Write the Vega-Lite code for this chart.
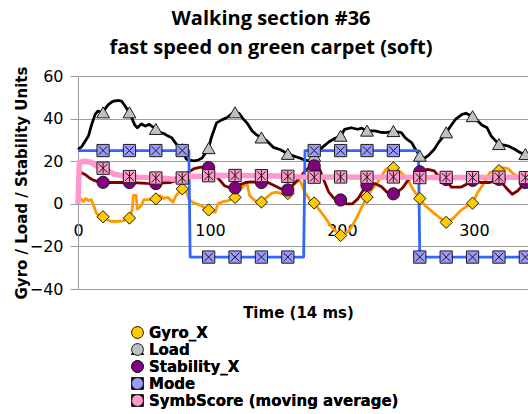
{
  "$schema": "https://vega.github.io/schema/vega-lite/v6.json",
  "autosize": {"type": "none"},
  "padding": {"left": 78, "top": 76, "right": 0, "bottom": 125},
  "width": 450,
  "height": 213,
  "background": "white",
  "title": {
    "text": ["Walking section #36", "fast speed on green carpet (soft)"],
    "font": "Open Sans",
    "fontSize": 20,
    "fontWeight": "bold",
    "lineHeight": 29,
    "anchor": "middle",
    "color": "black",
    "offset": 8,
    "dx": -32
  },
  "datasets": {
    "d": [
      {"s":"Gyro_X","x":0,"y":1.5,"m":0},{"s":"Gyro_X","x":2,"y":2.5,"m":0},{"s":"Gyro_X","x":4,"y":1,"m":0},{"s":"Gyro_X","x":6,"y":2.5,"m":0},{"s":"Gyro_X","x":8,"y":1.5,"m":0},{"s":"Gyro_X","x":10,"y":2,"m":0},{"s":"Gyro_X","x":12,"y":-1,"m":0},{"s":"Gyro_X","x":14,"y":-4.5,"m":0},{"s":"Gyro_X","x":16,"y":-5.5,"m":0},{"s":"Gyro_X","x":19,"y":-6.1,"m":1},{"s":"Gyro_X","x":22,"y":-7.5,"m":0},{"s":"Gyro_X","x":25,"y":-8.2,"m":0},{"s":"Gyro_X","x":30,"y":-8.3,"m":0},{"s":"Gyro_X","x":34,"y":-8,"m":0},{"s":"Gyro_X","x":36,"y":-7.5,"m":0},{"s":"Gyro_X","x":39,"y":-6.7,"m":1},{"s":"Gyro_X","x":41,"y":-3,"m":0},{"s":"Gyro_X","x":42,"y":3.9,"m":0},{"s":"Gyro_X","x":44,"y":4,"m":0},{"s":"Gyro_X","x":45,"y":-2.5,"m":0},{"s":"Gyro_X","x":48,"y":-0.8,"m":0},{"s":"Gyro_X","x":50,"y":2,"m":0},{"s":"Gyro_X","x":54,"y":2,"m":0},{"s":"Gyro_X","x":59,"y":2.3,"m":1},{"s":"Gyro_X","x":62,"y":3.9,"m":0},{"s":"Gyro_X","x":65,"y":2.5,"m":0},{"s":"Gyro_X","x":68,"y":3,"m":0},{"s":"Gyro_X","x":72,"y":0.8,"m":0},{"s":"Gyro_X","x":74,"y":3.5,"m":0},{"s":"Gyro_X","x":77,"y":6,"m":0},{"s":"Gyro_X","x":79,"y":7,"m":1},{"s":"Gyro_X","x":82,"y":6,"m":0},{"s":"Gyro_X","x":84,"y":2,"m":0},{"s":"Gyro_X","x":88,"y":0.3,"m":0},{"s":"Gyro_X","x":92,"y":-0.5,"m":0},{"s":"Gyro_X","x":95,"y":-1.5,"m":0},{"s":"Gyro_X","x":99,"y":-2.9,"m":1},{"s":"Gyro_X","x":102,"y":-3.5,"m":0},{"s":"Gyro_X","x":104,"y":-4,"m":0},{"s":"Gyro_X","x":106,"y":0,"m":0},{"s":"Gyro_X","x":110,"y":1,"m":0},{"s":"Gyro_X","x":114,"y":1.5,"m":0},{"s":"Gyro_X","x":119,"y":3,"m":1},{"s":"Gyro_X","x":122,"y":6,"m":0},{"s":"Gyro_X","x":125,"y":8,"m":0},{"s":"Gyro_X","x":128,"y":10,"m":0},{"s":"Gyro_X","x":130,"y":3.9,"m":0},{"s":"Gyro_X","x":133,"y":2,"m":0},{"s":"Gyro_X","x":136,"y":1,"m":0},{"s":"Gyro_X","x":139,"y":0.8,"m":1},{"s":"Gyro_X","x":143,"y":3,"m":0},{"s":"Gyro_X","x":147,"y":5,"m":0},{"s":"Gyro_X","x":151,"y":5.5,"m":0},{"s":"Gyro_X","x":155,"y":4.5,"m":0},{"s":"Gyro_X","x":159,"y":4.8,"m":1},{"s":"Gyro_X","x":163,"y":8.6,"m":0},{"s":"Gyro_X","x":167,"y":11,"m":0},{"s":"Gyro_X","x":169,"y":10,"m":0},{"s":"Gyro_X","x":172,"y":5.3,"m":0},{"s":"Gyro_X","x":176,"y":1.5,"m":0},{"s":"Gyro_X","x":179,"y":0.4,"m":1},{"s":"Gyro_X","x":183,"y":-3,"m":0},{"s":"Gyro_X","x":187,"y":-6.2,"m":0},{"s":"Gyro_X","x":191,"y":-10,"m":0},{"s":"Gyro_X","x":196,"y":-13.3,"m":0},{"s":"Gyro_X","x":199,"y":-14.9,"m":1},{"s":"Gyro_X","x":205,"y":-13,"m":0},{"s":"Gyro_X","x":208,"y":-10,"m":0},{"s":"Gyro_X","x":212,"y":-5.5,"m":0},{"s":"Gyro_X","x":215,"y":-1.6,"m":0},{"s":"Gyro_X","x":219,"y":3.1,"m":1},{"s":"Gyro_X","x":223,"y":7,"m":0},{"s":"Gyro_X","x":226,"y":9,"m":0},{"s":"Gyro_X","x":229,"y":12,"m":0},{"s":"Gyro_X","x":233,"y":16,"m":0},{"s":"Gyro_X","x":239,"y":16.9,"m":1},{"s":"Gyro_X","x":242,"y":16,"m":0},{"s":"Gyro_X","x":245,"y":14.6,"m":0},{"s":"Gyro_X","x":250,"y":11.5,"m":0},{"s":"Gyro_X","x":254,"y":6.5,"m":0},{"s":"Gyro_X","x":259,"y":2.5,"m":1},{"s":"Gyro_X","x":263,"y":-0.8,"m":0},{"s":"Gyro_X","x":269,"y":-4,"m":0},{"s":"Gyro_X","x":274,"y":-6.5,"m":0},{"s":"Gyro_X","x":279,"y":-8.7,"m":1},{"s":"Gyro_X","x":284,"y":-7,"m":0},{"s":"Gyro_X","x":290,"y":-3.1,"m":0},{"s":"Gyro_X","x":295,"y":-1,"m":0},{"s":"Gyro_X","x":299,"y":0.3,"m":1},{"s":"Gyro_X","x":303,"y":5.5,"m":0},{"s":"Gyro_X","x":308,"y":10,"m":0},{"s":"Gyro_X","x":312,"y":14.6,"m":0},{"s":"Gyro_X","x":319,"y":15.6,"m":1},{"s":"Gyro_X","x":322,"y":17,"m":0},{"s":"Gyro_X","x":326,"y":16.5,"m":0},{"s":"Gyro_X","x":330,"y":14,"m":0},{"s":"Gyro_X","x":334,"y":12.5,"m":0},{"s":"Gyro_X","x":339,"y":12.5,"m":1},{"s":"Gyro_X","x":341,"y":12,"m":0},

      {"s":"Load","x":0,"y":25.5,"m":0},{"s":"Load","x":3,"y":27,"m":0},{"s":"Load","x":6,"y":30,"m":0},{"s":"Load","x":8,"y":32,"m":0},{"s":"Load","x":10,"y":36.5,"m":0},{"s":"Load","x":13,"y":42,"m":0},{"s":"Load","x":15,"y":43.5,"m":0},{"s":"Load","x":19,"y":42.8,"m":1},{"s":"Load","x":21,"y":45,"m":0},{"s":"Load","x":23,"y":46.6,"m":0},{"s":"Load","x":26,"y":48,"m":0},{"s":"Load","x":28,"y":48.3,"m":0},{"s":"Load","x":31,"y":48.5,"m":0},{"s":"Load","x":33,"y":48.2,"m":0},{"s":"Load","x":35,"y":46.5,"m":0},{"s":"Load","x":39,"y":42.8,"m":1},{"s":"Load","x":41,"y":40,"m":0},{"s":"Load","x":43,"y":37,"m":0},{"s":"Load","x":45,"y":35.7,"m":0},{"s":"Load","x":48,"y":37.5,"m":0},{"s":"Load","x":51,"y":36.5,"m":0},{"s":"Load","x":54,"y":37.3,"m":0},{"s":"Load","x":59,"y":35,"m":1},{"s":"Load","x":62,"y":33.5,"m":0},{"s":"Load","x":65,"y":33,"m":0},{"s":"Load","x":68,"y":31.9,"m":0},{"s":"Load","x":71,"y":31,"m":0},{"s":"Load","x":74,"y":28.5,"m":0},{"s":"Load","x":76,"y":27,"m":0},{"s":"Load","x":79,"y":25.5,"m":1},{"s":"Load","x":82,"y":21,"m":0},{"s":"Load","x":84,"y":20.5,"m":0},{"s":"Load","x":88,"y":20.2,"m":0},{"s":"Load","x":91,"y":20.5,"m":0},{"s":"Load","x":94,"y":21.5,"m":0},{"s":"Load","x":99,"y":26,"m":1},{"s":"Load","x":101,"y":31,"m":0},{"s":"Load","x":105,"y":38,"m":0},{"s":"Load","x":109,"y":39.4,"m":0},{"s":"Load","x":113,"y":40.5,"m":0},{"s":"Load","x":116,"y":42,"m":0},{"s":"Load","x":119,"y":42.8,"m":1},{"s":"Load","x":122,"y":42.5,"m":0},{"s":"Load","x":125,"y":40,"m":0},{"s":"Load","x":128,"y":38,"m":0},{"s":"Load","x":132,"y":34.2,"m":0},{"s":"Load","x":135,"y":32.5,"m":0},{"s":"Load","x":139,"y":31,"m":1},{"s":"Load","x":143,"y":29.6,"m":0},{"s":"Load","x":148,"y":26.5,"m":0},{"s":"Load","x":153,"y":25.5,"m":0},{"s":"Load","x":156,"y":24.5,"m":0},{"s":"Load","x":159,"y":23.3,"m":1},{"s":"Load","x":163,"y":22.5,"m":0},{"s":"Load","x":168,"y":21.5,"m":0},{"s":"Load","x":172,"y":20.5,"m":0},{"s":"Load","x":175,"y":20.2,"m":0},{"s":"Load","x":179,"y":22.4,"m":1},{"s":"Load","x":183,"y":25,"m":0},{"s":"Load","x":186,"y":27,"m":0},{"s":"Load","x":190,"y":29,"m":0},{"s":"Load","x":194,"y":30.5,"m":0},{"s":"Load","x":199,"y":31.8,"m":1},{"s":"Load","x":202,"y":34.9,"m":0},{"s":"Load","x":207,"y":35.7,"m":0},{"s":"Load","x":212,"y":35,"m":0},{"s":"Load","x":215,"y":35.5,"m":0},{"s":"Load","x":219,"y":34.2,"m":1},{"s":"Load","x":225,"y":34.2,"m":0},{"s":"Load","x":229,"y":33.6,"m":0},{"s":"Load","x":233,"y":33.4,"m":0},{"s":"Load","x":239,"y":34,"m":1},{"s":"Load","x":245,"y":33.4,"m":0},{"s":"Load","x":248,"y":31,"m":0},{"s":"Load","x":251,"y":29.5,"m":0},{"s":"Load","x":253,"y":28.6,"m":0},{"s":"Load","x":255,"y":26.3,"m":0},{"s":"Load","x":259,"y":22.4,"m":1},{"s":"Load","x":263,"y":21.5,"m":0},{"s":"Load","x":266,"y":23,"m":0},{"s":"Load","x":270,"y":25.6,"m":0},{"s":"Load","x":273,"y":28.6,"m":0},{"s":"Load","x":279,"y":33.4,"m":1},{"s":"Load","x":283,"y":37,"m":0},{"s":"Load","x":286,"y":39.6,"m":0},{"s":"Load","x":291,"y":42,"m":0},{"s":"Load","x":294,"y":42.5,"m":0},{"s":"Load","x":299,"y":41,"m":1},{"s":"Load","x":303,"y":38.9,"m":0},{"s":"Load","x":306,"y":37,"m":0},{"s":"Load","x":310,"y":35.7,"m":0},{"s":"Load","x":313,"y":31.9,"m":0},{"s":"Load","x":319,"y":27.9,"m":1},{"s":"Load","x":323,"y":27.5,"m":0},{"s":"Load","x":326,"y":27.1,"m":0},{"s":"Load","x":331,"y":25.6,"m":0},{"s":"Load","x":335,"y":24,"m":0},{"s":"Load","x":339,"y":23.2,"m":1},{"s":"Load","x":341,"y":23.5,"m":0},

      {"s":"Stability_X","x":0,"y":15,"m":0},{"s":"Stability_X","x":3,"y":14.5,"m":0},{"s":"Stability_X","x":6,"y":13.5,"m":0},{"s":"Stability_X","x":9,"y":12,"m":0},{"s":"Stability_X","x":12,"y":11,"m":0},{"s":"Stability_X","x":15,"y":10.5,"m":0},{"s":"Stability_X","x":19,"y":10.1,"m":1},{"s":"Stability_X","x":25,"y":10,"m":0},{"s":"Stability_X","x":32,"y":10.1,"m":0},{"s":"Stability_X","x":39,"y":10,"m":1},{"s":"Stability_X","x":45,"y":9.8,"m":0},{"s":"Stability_X","x":52,"y":9.6,"m":0},{"s":"Stability_X","x":59,"y":9.5,"m":1},{"s":"Stability_X","x":65,"y":9.8,"m":0},{"s":"Stability_X","x":70,"y":10,"m":0},{"s":"Stability_X","x":75,"y":11,"m":0},{"s":"Stability_X","x":79,"y":12,"m":1},{"s":"Stability_X","x":83,"y":14.6,"m":0},{"s":"Stability_X","x":88,"y":16.5,"m":0},{"s":"Stability_X","x":93,"y":17.2,"m":0},{"s":"Stability_X","x":99,"y":17,"m":1},{"s":"Stability_X","x":103,"y":14,"m":0},{"s":"Stability_X","x":107,"y":11.4,"m":0},{"s":"Stability_X","x":111,"y":8.5,"m":0},{"s":"Stability_X","x":115,"y":7.5,"m":0},{"s":"Stability_X","x":119,"y":7.5,"m":1},{"s":"Stability_X","x":123,"y":9,"m":0},{"s":"Stability_X","x":127,"y":10,"m":0},{"s":"Stability_X","x":131,"y":10.3,"m":0},{"s":"Stability_X","x":135,"y":10.2,"m":0},{"s":"Stability_X","x":139,"y":10,"m":1},{"s":"Stability_X","x":144,"y":10,"m":0},{"s":"Stability_X","x":149,"y":8.5,"m":0},{"s":"Stability_X","x":154,"y":7,"m":0},{"s":"Stability_X","x":159,"y":6.5,"m":1},{"s":"Stability_X","x":163,"y":9,"m":0},{"s":"Stability_X","x":167,"y":11.5,"m":0},{"s":"Stability_X","x":171,"y":14.6,"m":0},{"s":"Stability_X","x":175,"y":17,"m":0},{"s":"Stability_X","x":179,"y":17.8,"m":1},{"s":"Stability_X","x":183,"y":16.5,"m":0},{"s":"Stability_X","x":186,"y":11.5,"m":0},{"s":"Stability_X","x":190,"y":5.5,"m":0},{"s":"Stability_X","x":194,"y":2.5,"m":0},{"s":"Stability_X","x":199,"y":1.8,"m":1},{"s":"Stability_X","x":203,"y":0,"m":0},{"s":"Stability_X","x":208,"y":0,"m":0},{"s":"Stability_X","x":212,"y":2.3,"m":0},{"s":"Stability_X","x":216,"y":6.2,"m":0},{"s":"Stability_X","x":219,"y":8.7,"m":1},{"s":"Stability_X","x":225,"y":9.5,"m":0},{"s":"Stability_X","x":230,"y":8,"m":0},{"s":"Stability_X","x":234,"y":5.5,"m":0},{"s":"Stability_X","x":239,"y":4.7,"m":1},{"s":"Stability_X","x":243,"y":6,"m":0},{"s":"Stability_X","x":246,"y":7.5,"m":0},{"s":"Stability_X","x":250,"y":11,"m":0},{"s":"Stability_X","x":254,"y":13,"m":0},{"s":"Stability_X","x":259,"y":15,"m":1},{"s":"Stability_X","x":265,"y":16.2,"m":0},{"s":"Stability_X","x":270,"y":15.5,"m":0},{"s":"Stability_X","x":275,"y":11.5,"m":0},{"s":"Stability_X","x":279,"y":11.4,"m":1},{"s":"Stability_X","x":283,"y":7.8,"m":0},{"s":"Stability_X","x":290,"y":7.8,"m":0},{"s":"Stability_X","x":294,"y":9,"m":0},{"s":"Stability_X","x":299,"y":11,"m":1},{"s":"Stability_X","x":305,"y":10,"m":0},{"s":"Stability_X","x":312,"y":10,"m":0},{"s":"Stability_X","x":319,"y":11.5,"m":1},{"s":"Stability_X","x":324,"y":7.8,"m":0},{"s":"Stability_X","x":329,"y":4.5,"m":0},{"s":"Stability_X","x":333,"y":6,"m":0},{"s":"Stability_X","x":339,"y":10,"m":1},{"s":"Stability_X","x":341,"y":11,"m":0},

      {"s":"Mode","x":0,"y":25,"m":0},{"s":"Mode","x":19,"y":25,"m":1},{"s":"Mode","x":39,"y":25,"m":1},{"s":"Mode","x":59,"y":25,"m":1},{"s":"Mode","x":79,"y":25,"m":1},{"s":"Mode","x":84,"y":25,"m":0},{"s":"Mode","x":85,"y":-25,"m":0},{"s":"Mode","x":99,"y":-25,"m":1},{"s":"Mode","x":119,"y":-25,"m":1},{"s":"Mode","x":139,"y":-25,"m":1},{"s":"Mode","x":159,"y":-25,"m":1},{"s":"Mode","x":171,"y":-25,"m":0},{"s":"Mode","x":172,"y":25,"m":0},{"s":"Mode","x":179,"y":25,"m":1},{"s":"Mode","x":199,"y":25,"m":1},{"s":"Mode","x":219,"y":25,"m":1},{"s":"Mode","x":239,"y":25,"m":1},{"s":"Mode","x":258,"y":25,"m":0},{"s":"Mode","x":259,"y":-25,"m":1},{"s":"Mode","x":279,"y":-25,"m":1},{"s":"Mode","x":299,"y":-25,"m":1},{"s":"Mode","x":319,"y":-25,"m":1},{"s":"Mode","x":339,"y":-25,"m":1},{"s":"Mode","x":341,"y":-25,"m":0},

      {"s":"SymbScore (moving average)","x":0,"y":0,"m":0},{"s":"SymbScore (moving average)","x":1,"y":19.5,"m":0},{"s":"SymbScore (moving average)","x":5,"y":20,"m":0},{"s":"SymbScore (moving average)","x":10,"y":19.5,"m":0},{"s":"SymbScore (moving average)","x":12,"y":18.5,"m":0},{"s":"SymbScore (moving average)","x":15,"y":17.5,"m":0},{"s":"SymbScore (moving average)","x":19,"y":16.7,"m":1},{"s":"SymbScore (moving average)","x":23,"y":15.5,"m":0},{"s":"SymbScore (moving average)","x":27,"y":14,"m":0},{"s":"SymbScore (moving average)","x":33,"y":13.2,"m":0},{"s":"SymbScore (moving average)","x":39,"y":12.8,"m":1},{"s":"SymbScore (moving average)","x":45,"y":12.5,"m":0},{"s":"SymbScore (moving average)","x":52,"y":12.3,"m":0},{"s":"SymbScore (moving average)","x":59,"y":12.1,"m":1},{"s":"SymbScore (moving average)","x":66,"y":12,"m":0},{"s":"SymbScore (moving average)","x":72,"y":11.5,"m":0},{"s":"SymbScore (moving average)","x":79,"y":12.1,"m":1},{"s":"SymbScore (moving average)","x":84,"y":13,"m":0},{"s":"SymbScore (moving average)","x":90,"y":12.8,"m":0},{"s":"SymbScore (moving average)","x":99,"y":13.2,"m":1},{"s":"SymbScore (moving average)","x":110,"y":13.4,"m":0},{"s":"SymbScore (moving average)","x":119,"y":13.3,"m":1},{"s":"SymbScore (moving average)","x":130,"y":13.2,"m":0},{"s":"SymbScore (moving average)","x":139,"y":13.2,"m":1},{"s":"SymbScore (moving average)","x":150,"y":13,"m":0},{"s":"SymbScore (moving average)","x":159,"y":12.9,"m":1},{"s":"SymbScore (moving average)","x":170,"y":12.6,"m":0},{"s":"SymbScore (moving average)","x":179,"y":12.5,"m":1},{"s":"SymbScore (moving average)","x":199,"y":12.6,"m":1},{"s":"SymbScore (moving average)","x":219,"y":12.5,"m":1},{"s":"SymbScore (moving average)","x":239,"y":12.6,"m":1},{"s":"SymbScore (moving average)","x":259,"y":12.3,"m":1},{"s":"SymbScore (moving average)","x":279,"y":12.4,"m":1},{"s":"SymbScore (moving average)","x":299,"y":12.3,"m":1},{"s":"SymbScore (moving average)","x":319,"y":12.5,"m":1},{"s":"SymbScore (moving average)","x":339,"y":12.3,"m":1},{"s":"SymbScore (moving average)","x":341,"y":12.3,"m":0}
    ]
  },
  "data": {"name": "d"},
  "layer": [
    {
      "transform": [{"filter": "datum.s !== 'SymbScore (moving average)'"}],
      "mark": {"type": "line", "strokeWidth": 2.8, "strokeJoin": "round"},
      "encoding": {
        "x": {"field": "x", "type": "quantitative", "scale": {"domain": [0, 341], "nice": false, "zero": false},
              "axis": {"orient": "bottom", "offset": -85, "values": [0, 100, 200, 300], "ticks": false, "tickSize": 0, "labelPadding": 18, "grid": false,
                       "title": "Time (14 ms)", "titleY": 101, "titleX": 220, "titleBaseline": "top", "titleFont": "DejaVu Sans", "titleFontSize": 15, "titleFontWeight": "bold", "titleColor": "black",
                       "domainColor": "#9a9a9a", "labelFont": "DejaVu Sans", "labelFontSize": 16, "labelColor": "black", "labelFlush": false}},
        "y": {"field": "y", "type": "quantitative", "scale": {"domain": [-40, 60], "nice": false, "zero": false},
              "axis": {"values": [-40, -20, 0, 20, 40, 60], "grid": true, "gridColor": "#a0a0a0", "gridWidth": 1,
                       "domainColor": "#9a9a9a", "tickColor": "#9a9a9a", "tickSize": 8,
                       "labelFont": "DejaVu Sans", "labelFontSize": 16, "labelColor": "black", "labelPadding": 7,
                       "title": "Gyro / Load / Stability Units", "titleFont": "DejaVu Sans", "titleFontSize": 15, "titleFontWeight": "bold", "titleColor": "black", "titlePadding": 0}},
        "stroke": {"field": "s", "type": "nominal", "legend": null,
                   "sort": ["Gyro_X", "Load", "Stability_X", "Mode"],
                   "scale": {"range": ["#FF9900", "#000000", "#800000", "#3366FF"]}},
        "order": {"field": "x", "type": "quantitative"}
      }
    },
    {
      "transform": [{"filter": "datum.s === 'SymbScore (moving average)'"}],
      "mark": {"type": "line", "strokeWidth": 5.5, "strokeJoin": "round", "stroke": "#FF99CC"},
      "encoding": {
        "x": {"field": "x", "type": "quantitative"},
        "y": {"field": "y", "type": "quantitative"},
        "order": {"field": "x", "type": "quantitative"}
      }
    },
    {
      "transform": [{"filter": "datum.m === 1"}],
      "mark": {"type": "point", "filled": true, "opacity": 1, "size": 150, "strokeWidth": 1, "stroke": "#1a1a1a"},
      "encoding": {
        "x": {"field": "x", "type": "quantitative"},
        "y": {"field": "y", "type": "quantitative"},
        "shape": {"field": "s", "type": "nominal",
                  "sort": ["Gyro_X", "Load", "Stability_X", "Mode", "SymbScore (moving average)"],
                  "scale": {"range": ["M0,-1L1,0L0,1L-1,0Z", "M0,-0.95L1.05,0.85L-1.05,0.85Z", "circle", "M-1,-1H1V1H-1ZM-0.7,-0.7L0.7,0.7M-0.7,0.7L0.7,-0.7", "M-1,-1H1V1H-1ZM-0.7,-0.7L0.7,0.7M-0.7,0.7L0.7,-0.7M0,-0.85L0,0.85"]},
                  "legend": {"orient": "none", "legendX": 52, "legendY": 249, "title": null}},
        "fill": {"field": "s", "type": "nominal",
                 "sort": ["Gyro_X", "Load", "Stability_X", "Mode", "SymbScore (moving average)"],
                 "scale": {"range": ["#FFCC00", "#C0C0C0", "#800080", "#9999FF", "#FF99CC"]},
                 "legend": {"orient": "none", "legendX": 52, "legendY": 249, "title": null}}
      }
    }
  ],
  "config": {
    "view": {"stroke": null},
    "legend": {"labelFont": "DejaVu Sans", "labelFontSize": 15, "labelFontWeight": "bold", "labelColor": "black", "labelLimit": 320, "symbolSize": 140, "symbolStrokeWidth": 1, "labelOffset": 4, "rowPadding": 0}
  }
}
